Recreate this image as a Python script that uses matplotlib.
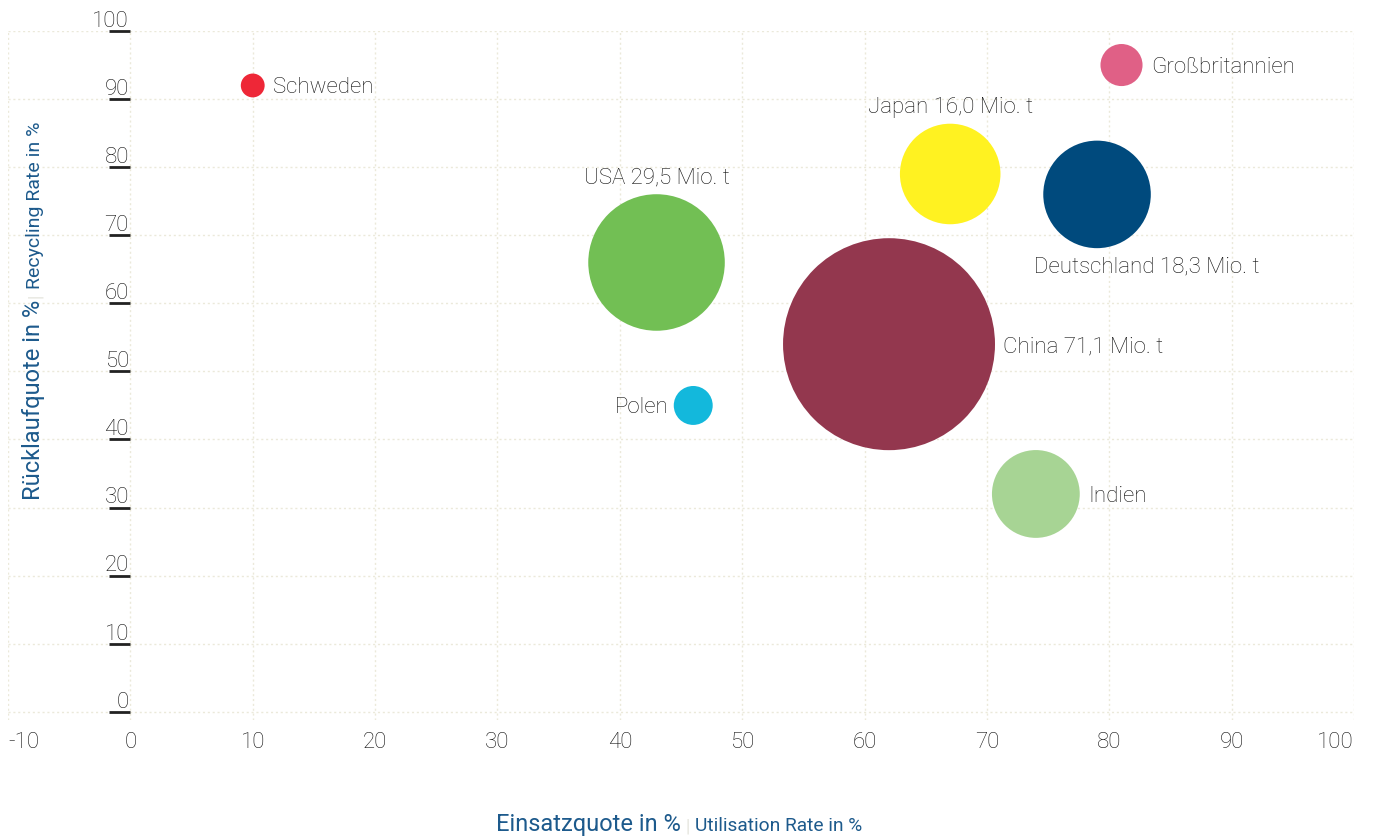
import numpy as np
import matplotlib.pyplot as plt

plt.rcParams["font.family"] = ["Roboto", "DejaVu Sans"]
plt.rcParams["axes.unicode_minus"] = False

# Länderdaten: Einsatzquote, Rücklaufquote, Menge in Mio. t
countries = ["Schweden", "Großbritannien", "Japan", "Deutschland",
             "USA", "China", "Polen", "Indien"]
utilisation = [10, 81, 67, 79, 43, 62, 46, 74]
recycling = [92, 95, 79, 76, 66, 54, 45, 32]
tonnes = [0.9, 2.8, 16.0, 18.3, 29.5, 71.1, 2.4, 12.2]
show_amount = [False, False, True, True, True, True, False, False]
colors = ["#ee2737", "#e06086", "#fff221", "#004a7d",
          "#72bf54", "#93374e", "#13b8dc", "#a7d494"]
placement = ["right", "right", "above", "below",
             "above", "right", "left", "right"]

x_ticks = list(range(-10, 101, 10))
y_ticks = list(range(0, 101, 10))

text_col = "#111111"
weight = "light"

fig = plt.figure(figsize=(13.76, 8.36), dpi=100)
ax = fig.add_axes([8 / 1376, 1 - 720 / 836, 1346 / 1376, 689 / 836])

# Blasenfläche proportional zur Menge
scale = 327.6
sizes = [t * scale for t in tonnes]
ax.scatter(utilisation, recycling, s=sizes, c=colors, linewidths=0, zorder=3)

ax.set_xlim(-10, 100)
ax.set_ylim(-1.2, 100)
ax.set_xticks(x_ticks)
ax.set_xticklabels([str(v) for v in x_ticks])
ax.set_yticks(y_ticks)
ax.tick_params(axis="x", length=0, pad=9, labelsize=16, labelcolor=text_col)
ax.tick_params(axis="y", length=0, labelleft=False)
xlabels = ax.get_xticklabels()
for lbl in xlabels:
    lbl.set_fontweight(weight)
xlabels[0].set_ha("left")
xlabels[-1].set_ha("right")
ax.grid(True, color="#ebe9da", linestyle=(0, (1.5, 2)), linewidth=1)
for sp in ax.spines.values():
    sp.set_visible(False)

# y-Beschriftung direkt an der Nulllinie, unterstrichen
for v in y_ticks:
    ax.plot([-1.75, 0], [v, v], color="#222222", lw=2,
            solid_capstyle="butt", zorder=4, clip_on=False)
    ax.annotate(str(v), (0, v), xytext=(-1, 3), textcoords="offset points",
                ha="right", va="baseline", fontsize=16, color=text_col,
                fontweight=weight)

# Beschriftung der Blasen
for name, x, y, t, show, place, s in zip(countries, utilisation, recycling,
                                         tonnes, show_amount, placement, sizes):
    text = name + (f" {t:.1f} Mio. t".replace(".", ",", 1) if show else "")
    r = np.sqrt(s) / 2
    if place == "right":
        off, ha, va = (r + 6, 0), "left", "center_baseline"
    elif place == "left":
        off, ha, va = (-r - 4, 0), "right", "center_baseline"
    elif place == "above":
        off, ha, va = (0, r + 4), "center", "bottom"
    else:
        off, ha, va = (36, -r - 6), "center", "top"
    ax.annotate(text, (x, y), xytext=off, textcoords="offset points",
                ha=ha, va=va, fontsize=16, color=text_col,
                fontweight=weight, zorder=5)

# Achsentitel zweisprachig
blue = "#1d5a8c"
fig.text(681 / 1376, 5 / 836, "Einsatzquote in %", ha="right",
         va="baseline", fontsize=17, color=blue)
fig.text(688 / 1376, 5 / 836, "|", ha="center", va="baseline",
         fontsize=13, color="#e4e4dc")
fig.text(695 / 1376, 5 / 836, "Utilisation Rate in %", ha="left",
         va="baseline", fontsize=13.8, color=blue)

fig.text(40 / 1376, 1 - 500 / 836, "Rücklaufquote in %", rotation=90,
         rotation_mode="anchor", ha="left", va="baseline", fontsize=17,
         color=blue)
fig.text(40 / 1376, 1 - 296 / 836, "|", rotation=90, rotation_mode="anchor",
         ha="center", va="baseline", fontsize=13, color="#e4e4dc")
fig.text(40 / 1376, 1 - 289 / 836, "Recycling Rate in %", rotation=90,
         rotation_mode="anchor", ha="left", va="baseline", fontsize=14,
         color=blue)

fig.savefig("out.png", dpi=100)
